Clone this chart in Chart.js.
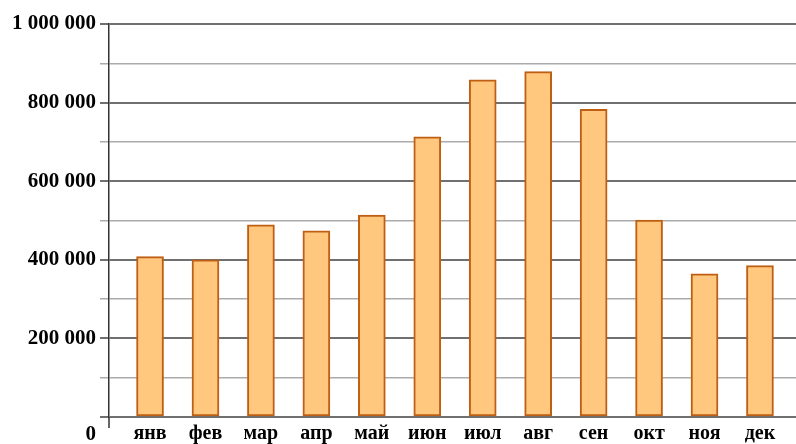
<!DOCTYPE html>
<html>
<head>
<meta charset="utf-8">
<script src="https://cdn.jsdelivr.net/npm/chart.js@4/dist/chart.umd.min.js"></script>
<style>
  html, body { margin: 0; padding: 0; background: #fff; }
  #wrap { width: 796px; height: 444px; position: relative; }
</style>
</head>
<body>
<div id="wrap"><canvas id="c"></canvas></div>
<script>
// Monthly totals
const months = ['янв', 'фев', 'мар', 'апр', 'май', 'июн', 'июл', 'авг', 'сен', 'окт', 'ноя', 'дек'];
const values = [408000, 400000, 489000, 474000, 514000, 713000, 858000, 879000, 783000, 501000, 364000, 385000];
const yTicks = [0, 200000, 400000, 600000, 800000, 1000000];

const serif = '"Liberation Serif", "Times New Roman", serif';

function fmt(v) {
  return String(v).replace(/\B(?=(\d{3})+(?!\d))/g, ' ');
}

// Origin label and the short extension of the vertical axis below zero
const originPlugin = {
  id: 'origin',
  afterDraw(chart) {
    const { ctx, scales } = chart;
    const x0 = scales.x.left;
    const y0 = scales.y.getPixelForValue(0);
    ctx.save();
    ctx.strokeStyle = '#333';
    ctx.lineWidth = 1.5;
    ctx.beginPath();
    ctx.moveTo(x0, y0);
    ctx.lineTo(x0, y0 + 11);
    ctx.stroke();
    ctx.fillStyle = '#000';
    ctx.font = 'bold 21px ' + serif;
    ctx.textAlign = 'right';
    ctx.textBaseline = 'alphabetic';
    ctx.fillText(fmt(yTicks[0]), x0 - 13, y0 + 23);
    ctx.restore();
  }
};

new Chart(document.getElementById('c'), {
  type: 'bar',
  data: {
    datasets: [{
      data: values.map((v, i) => ({ x: i, y: v })),
      backgroundColor: '#FFC87E',
      borderColor: '#BF5F14',
      borderWidth: 2,
      borderSkipped: false,
      barThickness: 27
    }]
  },
  options: {
    responsive: true,
    maintainAspectRatio: false,
    animation: false,
    layout: { padding: { top: 24, right: 0, bottom: 0, left: 0 } },
    plugins: { legend: { display: false }, tooltip: { enabled: false } },
    scales: {
      x: {
        type: 'linear',
        offset: false,
        min: -0.74,
        max: 11.65,
        grid: { display: false, drawTicks: false },
        border: { display: false },
        afterBuildTicks(scale) {
          scale.ticks = months.map((_, i) => ({ value: i }));
        },
        afterFit(scale) { scale.height = 27; },
        ticks: {
          autoSkip: false,
          maxRotation: 0,
          padding: 5,
          color: '#000',
          font: { family: serif, size: 20, weight: 'bold' },
          callback: (v) => months[v]
        }
      },
      y: {
        min: 0,
        max: 1000000,
        afterBuildTicks(scale) {
          const t = [];
          for (let v = 0; v <= 1000000; v += 100000) t.push({ value: v });
          scale.ticks = t;
        },
        afterFit(scale) { scale.width = 109; },
        grid: {
          color: (c) => (yTicks.includes(c.tick.value) ? '#707070' : '#ababab'),
          lineWidth: (c) => (yTicks.includes(c.tick.value) ? 2 : 1.5),
          tickLength: 9
        },
        border: { display: true, color: '#333', width: 1.5 },
        ticks: {
          padding: 4,
          color: '#000',
          font: { family: serif, size: 21, weight: 'bold' },
          callback: (v) => (v !== 0 && yTicks.includes(v) ? fmt(v) : '')
        }
      }
    }
  },
  plugins: [originPlugin]
});
</script>
</body>
</html>
